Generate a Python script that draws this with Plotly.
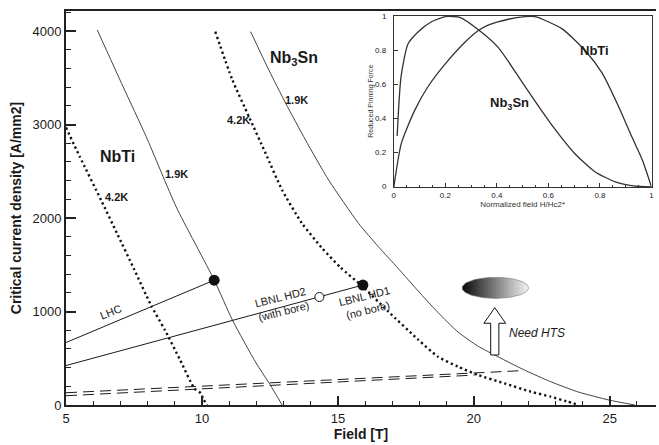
import numpy as np
import plotly.graph_objects as go

# ---------------- main chart data: Field [T] vs Jc [A/mm2] ----------------
nbti_42K_field = [5.0, 5.5, 6.3, 6.87, 7.5, 8.13, 8.64, 9.2, 9.72, 9.96, 10.05, 10.2]
nbti_42K_jc = [2967, 2660, 2185, 1840, 1455, 1066, 800, 480, 178, 125, 60, 0]

nbti_19K_field = [6.15, 7.10, 7.95, 9.05, 10.45, 11.12, 11.99, 12.5, 12.95]
nbti_19K_jc = [4011, 3404, 2870, 2121, 1337, 909, 450, 220, 0]

nb3sn_42K_field = [10.49, 11.12, 11.73, 12.34, 12.95, 13.68, 14.41, 15.1, 15.9, 16.85,
                   17.95, 18.68, 19.42, 20.15, 21.12, 22.1, 22.83, 23.4, 23.87]
nb3sn_42K_jc = [3993, 3476, 3083, 2692, 2299, 1943, 1680, 1470, 1270, 1000,
                700, 517, 410, 321, 232, 142, 89, 40, 0]

nb3sn_19K_field = [11.79, 12.46, 13.08, 13.81, 14.66, 15.76, 16.49, 17.22, 17.95, 18.68,
                   19.42, 20.15, 20.88, 21.86, 22.83, 23.81, 24.97, 25.92]
nb3sn_19K_jc = [3993, 3583, 3227, 2834, 2406, 1943, 1693, 1460, 1220, 990,
                780, 630, 517, 374, 249, 142, 53, 0]

# magnet load lines
lhc_field = [5.0, 10.45]
lhc_jc = [668, 1335]
hd_field = [5.0, 15.92]
hd_jc = [422, 1283]
# operating points
op_filled_field = [10.45, 15.92]
op_filled_jc = [1335, 1283]
op_open_field = [14.32]
op_open_jc = [1155]

# dashed lines near the bottom
dash_a_field = [5.0, 21.67]
dash_a_jc = [131, 366]
dash_b_field = [5.0, 20.03]
dash_b_jc = [99, 320]

# ---------------- inset data: reduced pinning force ----------------
inset_nbti_b = [0, 0.029, 0.081, 0.133, 0.198, 0.276, 0.33, 0.366, 0.444, 0.509, 0.548,
                0.652, 0.743, 0.808, 0.873, 0.925, 0.964, 1.0]
inset_nbti_f = [0, 0.255, 0.45, 0.59, 0.72, 0.85, 0.92, 0.95, 0.985, 1.0, 1.0,
                0.93, 0.80, 0.67, 0.47, 0.29, 0.16, 0]
inset_nb3sn_b = [0.013, 0.028, 0.055, 0.094, 0.146, 0.2, 0.256, 0.327, 0.405, 0.483,
                 0.55, 0.62, 0.70, 0.78, 0.86, 0.93, 1.0]
inset_nb3sn_f = [0.30, 0.647, 0.84, 0.91, 0.97, 1.0, 0.996, 0.925, 0.82, 0.65,
                 0.50, 0.35, 0.20, 0.09, 0.03, 0.006, 0]

x_ticks = [5, 10, 15, 20, 25]
y_ticks = [0, 1000, 2000, 3000, 4000]
inset_tick_step = 0.2
inset_y_tick_vals = [0, 0.2, 0.4, 0.6, 0.8, 1]
inset_y_tick_text = ["0", "0.2", "0.4", "0.6", "0.8", "1"]

FONT = "Liberation Sans, Arial, sans-serif"
INK = "#1a1a1a"
DOT = "2.2px,3px"

INSET_X_DOMAIN = [0.5556, 0.9924]
INSET_Y_DOMAIN = [0.5533, 0.9873]
INSET_Y_RANGE = [0, 1.004]

fig = go.Figure()

def line(x, y, width=1, dash=None, color=INK, xa="x", ya="y", shape="spline"):
    fig.add_trace(go.Scatter(x=x, y=y, mode="lines", xaxis=xa, yaxis=ya,
                             line=dict(color=color, width=width, dash=dash, shape=shape,
                                       smoothing=0.6 if shape == "spline" else None),
                             hoverinfo="skip", showlegend=False))

# superconductor curves
line(nbti_42K_field, nbti_42K_jc, width=2.4, dash=DOT, color="#111")
line(nbti_19K_field, nbti_19K_jc, width=1, color="#444")
line(nb3sn_42K_field, nb3sn_42K_jc, width=2.4, dash=DOT, color="#111")
line(nb3sn_19K_field, nb3sn_19K_jc, width=1, color="#444")

# load lines and dashed lines
line(lhc_field, lhc_jc, width=1, shape="linear")
line(hd_field, hd_jc, width=1, shape="linear")
line(dash_a_field, dash_a_jc, width=1, dash="11px,6px", shape="linear")
line(dash_b_field, dash_b_jc, width=1, dash="11px,6px", shape="linear")

# operating points
fig.add_trace(go.Scatter(x=op_filled_field, y=op_filled_jc, mode="markers",
                         marker=dict(size=11, color="#111"), hoverinfo="skip", showlegend=False))
fig.add_trace(go.Scatter(x=op_open_field, y=op_open_jc, mode="markers",
                         marker=dict(size=9, color="white", line=dict(color="#111", width=1)),
                         hoverinfo="skip", showlegend=False))

# gradient ellipse (HTS region)
ell_cx, ell_cy, ell_rx, ell_ry = 20.79, 1253, 1.22, 113
t = np.linspace(0, 2 * np.pi, 90)
fig.add_trace(go.Scatter(x=ell_cx + ell_rx * np.cos(t), y=ell_cy + ell_ry * np.sin(t),
                         mode="lines", fill="toself",
                         fillgradient=dict(type="horizontal",
                                           colorscale=[[0, "#0a0a0a"], [0.55, "#8a8a8a"], [1, "#f4f4f4"]]),
                         line=dict(color="#777", width=0.6), hoverinfo="skip", showlegend=False))

# hollow arrow "Need HTS"
ar_cx, ar_base, ar_neck, ar_tip, ar_half_shaft, ar_half_head = 20.77, 535, 874, 1041, 0.15, 0.40
ax_pts = [ar_cx - ar_half_shaft, ar_cx + ar_half_shaft, ar_cx + ar_half_shaft, ar_cx + ar_half_head,
          ar_cx, ar_cx - ar_half_head, ar_cx - ar_half_shaft, ar_cx - ar_half_shaft]
ay_pts = [ar_base, ar_base, ar_neck, ar_neck, ar_tip, ar_neck, ar_neck, ar_base]
fig.add_trace(go.Scatter(x=ax_pts, y=ay_pts, mode="lines", fill="toself", fillcolor="white",
                         line=dict(color="#111", width=1), hoverinfo="skip", showlegend=False))

# inset curves
line(inset_nbti_b, inset_nbti_f, width=1.3, color="#333", xa="x2", ya="y2")
line(inset_nb3sn_b, inset_nb3sn_f, width=1.3, color="#333", xa="x2", ya="y2")

def ann(text, x, y, size=11, bold=False, angle=0, italic=False, xref="x", yref="y",
        xanchor="center", color=INK):
    fig.add_annotation(x=x, y=y, xref=xref, yref=yref, text=text, showarrow=False,
                       textangle=angle, xanchor=xanchor, yanchor="middle",
                       font=dict(family=FONT, size=size, color=color,
                                 weight="bold" if bold else "normal",
                                 style="italic" if italic else "normal"))

ann("NbTi", 6.88, 2656, size=16, bold=True)
ann("Nb<sub>3</sub>Sn", 13.38, 3708, size=16, bold=True)
ann("4.2K", 6.87, 2228, size=11, bold=True)
ann("1.9K", 9.08, 2470, size=11, bold=True)
ann("4.2K", 11.36, 3048, size=11, bold=True)
ann("1.9K", 13.47, 3262, size=11, bold=True)
ann("LHC", 6.65, 990, size=11, angle=-22)
ann("LBNL HD2<br>(with bore)", 12.95, 1075, size=11, angle=-14)
ann("LBNL HD1<br>(no bore)", 16.03, 1090, size=11, angle=-14)
ann("Need HTS", 22.32, 767, size=12, italic=True)
ann("NbTi", 0.78, 0.80, size=13, bold=True, xref="x2", yref="y2")
ann("Nb<sub>3</sub>Sn", 0.45, 0.49, size=13, bold=True, xref="x2", yref="y2")

# inset y tick labels, placed in paper coordinates just left of the inset frame
inset_w = INSET_X_DOMAIN[1] - INSET_X_DOMAIN[0]
inset_h = INSET_Y_DOMAIN[1] - INSET_Y_DOMAIN[0]
label_x = INSET_X_DOMAIN[0] - 0.008
for v, s in zip(inset_y_tick_vals, inset_y_tick_text):
    py = INSET_Y_DOMAIN[0] + inset_h * (v - INSET_Y_RANGE[0]) / (INSET_Y_RANGE[1] - INSET_Y_RANGE[0])
    ann(s, label_x, py, size=8, xref="paper", yref="paper", xanchor="right", color="#222")
ann("Reduced Pinning Force", INSET_X_DOMAIN[0] - 0.04, INSET_Y_DOMAIN[0] + inset_h / 2,
    size=7, angle=-90, xref="paper", yref="paper", color="#333")

axis_common = dict(showgrid=False, zeroline=False, linecolor="#222", ticks="inside",
                   tickcolor="#222", tickfont=dict(family=FONT, size=13, color=INK))

inset_common = dict(showgrid=False, zeroline=False, linecolor="#333", linewidth=1.3, mirror=True,
                    tickmode="linear", tick0=0, dtick=inset_tick_step,
                    ticks="inside", ticklen=4, tickcolor="#333",
                    tickfont=dict(family=FONT, size=8, color="#222"))

fig.update_layout(
    width=659, height=445,
    margin=dict(l=66, r=0, t=11, b=40),
    paper_bgcolor="white", plot_bgcolor="white",
    showlegend=False,
    xaxis=dict(**axis_common, range=[5, 26.70], linewidth=2, mirror=True,
               tickvals=x_ticks, ticklen=9, tickwidth=1.5,
               minor=dict(dtick=1, ticklen=4, tickcolor="#222", ticks="inside", tickwidth=1),
               title=dict(text="Field [T]", standoff=4,
                          font=dict(family=FONT, size=14, color=INK, weight="bold"))),
    yaxis=dict(**axis_common, range=[0, 4214], linewidth=2,
               tickvals=y_ticks, ticklen=10, tickwidth=1.5,
               minor=dict(dtick=200, ticklen=5, tickcolor="#222", ticks="inside", tickwidth=1),
               title=dict(text="Critical current density [A/mm2]", standoff=8,
                          font=dict(family=FONT, size=14, color=INK, weight="bold"))),
    xaxis2=dict(**inset_common, domain=INSET_X_DOMAIN, anchor="y2", range=[0, 1],
                minor=dict(dtick=0.05, ticklen=2, ticks="inside", tickcolor="#333"),
                title=dict(text="Normalized field H/Hc2*", standoff=2,
                           font=dict(family=FONT, size=8, color="#333"))),
    yaxis2=dict(**inset_common, domain=INSET_Y_DOMAIN, anchor="x2", range=INSET_Y_RANGE,
                showticklabels=False),
)

fig.write_html("out.html", config={"displayModeBar": False},
               post_script="document.body.style.margin='0';document.body.style.overflow='hidden';")
